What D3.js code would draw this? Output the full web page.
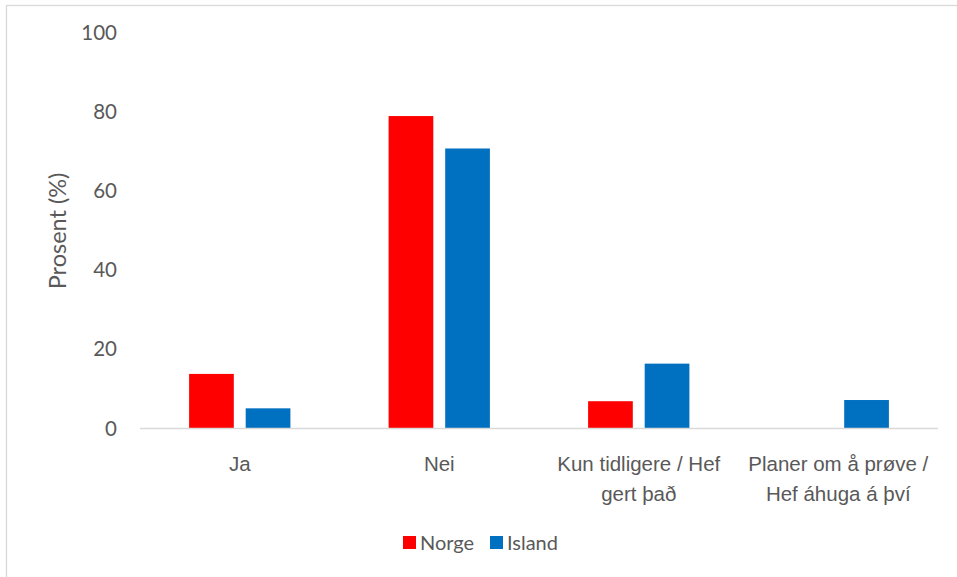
<!DOCTYPE html>
<html>
<head>
<meta charset="utf-8">
<script src="https://cdn.jsdelivr.net/npm/d3@7"></script>
<style>
  html, body { margin: 0; padding: 0; background: #fff; }
  svg { display: block; font-family: Lato, "Open Sans", sans-serif; }
</style>
</head>
<body>
<svg id="chart" width="957" height="577"></svg>
<script>
const categories = [
  ["Ja"],
  ["Nei"],
  ["Kun tidligere / Hef", "gert það"],
  ["Planer om å prøve /", "Hef áhuga á því"]
];
const seriesNames = ["Norge", "Island"];
const norgeValues = [13.8, 79.0, 6.9, 0];
const islandValues = [5.1, 70.8, 16.4, 7.2];
const yTicks = [0, 20, 40, 60, 80, 100];
const colors = ["#FF0000", "#0070C0"];

const svg = d3.select("#chart");
const W = 957, H = 577;
const plot = { left: 140, right: 938, top: 33, bottom: 428.5 };

// outer frame (top and left edges visible)
svg.append("rect").attr("x", 6.5).attr("y", 5.5).attr("width", W + 10).attr("height", H + 10)
  .attr("fill", "none").attr("stroke", "#D9D9D9").attr("stroke-width", 1.3);

const x0 = d3.scaleBand().domain(d3.range(categories.length)).range([plot.left, plot.right]).paddingInner(0).paddingOuter(0);
const groupW = 101.3;
const x1 = d3.scaleBand().domain(seriesNames).range([0, groupW]).paddingInner(0.21).paddingOuter(0);
const y = d3.scaleLinear().domain([0, 100]).range([plot.bottom, plot.top]);

// y tick labels
const yAxis = d3.axisLeft(y).tickValues(yTicks).tickSize(0).tickPadding(0);
const gy = svg.append("g").attr("transform", `translate(117,0)`).call(yAxis);
gy.select(".domain").remove();
gy.selectAll("text").attr("fill", "#595959").attr("font-size", 20.5).attr("font-family", "Lato, 'Open Sans', sans-serif");

// bars
const data = [norgeValues, islandValues];
const groups = svg.append("g");
categories.forEach((c, i) => {
  const gx = x0(i) + (x0.bandwidth() - groupW) / 2;
  seriesNames.forEach((s, j) => {
    const v = data[j][i];
    if (v <= 0) return;
    groups.append("rect")
      .attr("x", gx + x1(s))
      .attr("y", y(v))
      .attr("width", x1.bandwidth())
      .attr("height", y(0) - y(v))
      .attr("fill", colors[j]);
  });
});

// x axis line
svg.append("line").attr("x1", plot.left).attr("x2", plot.right)
  .attr("y1", y(0)).attr("y2", y(0))
  .attr("stroke", "#D9D9D9").attr("stroke-width", 1.5);

// category labels
const xAxis = d3.axisBottom(x0).tickSize(0).tickFormat(() => "");
const gx = svg.append("g").attr("transform", `translate(0,${y(0)})`).call(xAxis);
gx.select(".domain").remove();
gx.selectAll(".tick").each(function(d) {
  const t = d3.select(this).append("text")
    .attr("text-anchor", "middle")
    .attr("fill", "#595959")
    .attr("font-size", 20.5);
  categories[d].forEach((line, k) => {
    t.append("tspan").attr("x", 0).attr("y", 42 + k * 30).text(line);
  });
});

// y axis title
svg.append("text")
  .attr("transform", `translate(66,231) rotate(-90)`)
  .attr("text-anchor", "middle")
  .attr("fill", "#595959")
  .attr("font-size", 23.5)
  .text("Prosent (%)");

// legend
const legend = svg.append("g").attr("transform", "translate(0,543)");
const legendItems = [{ name: seriesNames[0], color: colors[0], x: 403 }, { name: seriesNames[1], color: colors[1], x: 490 }];
legendItems.forEach(it => {
  legend.append("rect").attr("x", it.x).attr("y", -7).attr("width", 13).attr("height", 13).attr("fill", it.color);
  legend.append("text").attr("x", it.x + 17).attr("y", 7)
    .attr("fill", "#595959").attr("font-size", 20).text(it.name);
});
</script>
</body>
</html>
